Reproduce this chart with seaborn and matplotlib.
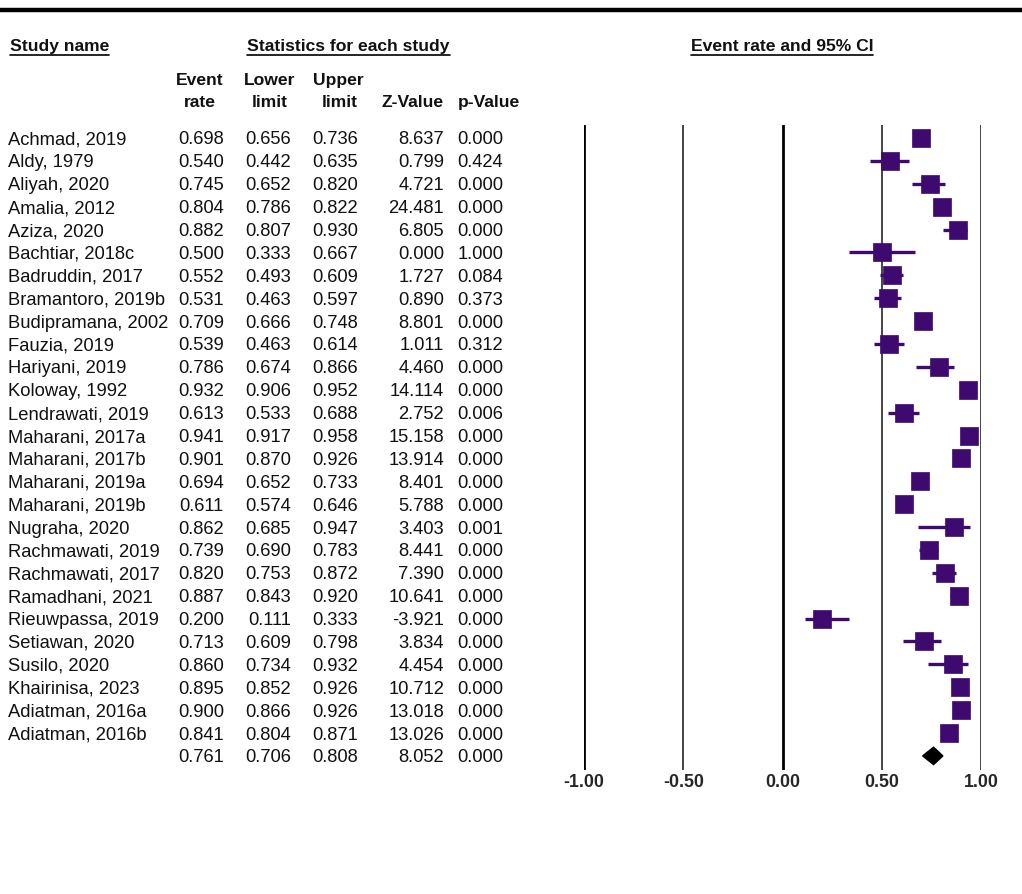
import matplotlib
matplotlib.use("Agg")
import matplotlib.pyplot as plt
import matplotlib.transforms as mtransforms
from matplotlib.lines import Line2D
import numpy as np
import pandas as pd
import seaborn as sns

studies = ["Achmad, 2019", "Aldy, 1979", "Aliyah, 2020", "Amalia, 2012", "Aziza, 2020",
           "Bachtiar, 2018c", "Badruddin, 2017", "Bramantoro, 2019b", "Budipramana, 2002",
           "Fauzia, 2019", "Hariyani, 2019", "Koloway, 1992", "Lendrawati, 2019",
           "Maharani, 2017a", "Maharani, 2017b", "Maharani, 2019a", "Maharani, 2019b",
           "Nugraha, 2020", "Rachmawati, 2019", "Rachmawati, 2017", "Ramadhani, 2021",
           "Rieuwpassa, 2019", "Setiawan, 2020", "Susilo, 2020", "Khairinisa, 2023",
           "Adiatman, 2016a", "Adiatman, 2016b"]
event_rate = [0.698, 0.540, 0.745, 0.804, 0.882, 0.500, 0.552, 0.531, 0.709, 0.539,
              0.786, 0.932, 0.613, 0.941, 0.901, 0.694, 0.611, 0.862, 0.739, 0.820,
              0.887, 0.200, 0.713, 0.860, 0.895, 0.900, 0.841]
lower_limit = [0.656, 0.442, 0.652, 0.786, 0.807, 0.333, 0.493, 0.463, 0.666, 0.463,
               0.674, 0.906, 0.533, 0.917, 0.870, 0.652, 0.574, 0.685, 0.690, 0.753,
               0.843, 0.111, 0.609, 0.734, 0.852, 0.866, 0.804]
upper_limit = [0.736, 0.635, 0.820, 0.822, 0.930, 0.667, 0.609, 0.597, 0.748, 0.614,
               0.866, 0.952, 0.688, 0.958, 0.926, 0.733, 0.646, 0.947, 0.783, 0.872,
               0.920, 0.333, 0.798, 0.932, 0.926, 0.926, 0.871]
z_value = [8.637, 0.799, 4.721, 24.481, 6.805, 0.000, 1.727, 0.890, 8.801, 1.011,
           4.460, 14.114, 2.752, 15.158, 13.914, 8.401, 5.788, 3.403, 8.441, 7.390,
           10.641, -3.921, 3.834, 4.454, 10.712, 13.018, 13.026]
p_value = [0.000, 0.424, 0.000, 0.000, 0.000, 1.000, 0.084, 0.373, 0.000, 0.312,
           0.000, 0.000, 0.006, 0.000, 0.000, 0.000, 0.000, 0.001, 0.000, 0.000,
           0.000, 0.000, 0.000, 0.000, 0.000, 0.000, 0.000]
summary_rate = 0.761
summary_lower = 0.706
summary_upper = 0.808
summary_z = 8.052
summary_p = 0.000
tick_values = [-1.0, -0.5, 0.0, 0.5, 1.0]
tick_labels = ["-1.00", "-0.50", "0.00", "0.50", "1.00"]

sns.set_theme(style="white")
plt.rcParams["font.family"] = ["Liberation Sans", "DejaVu Sans"]

W, H = 1022, 894
fig = plt.figure(figsize=(W / 100, H / 100), dpi=100)
fig.patch.set_facecolor("white")

# forest axes: x -1 -> px 584, 1 -> px 981 ; rows 0 -> y 138, spacing 22.885
x0, x1 = 584, 981
ytop, ybot = 125, 770
row0, dy = 138, 22.885
ax = fig.add_axes([x0 / W, 1 - ybot / H, (x1 - x0) / W, (ybot - ytop) / H])
ax.set_xlim(-1, 1)
ax.set_ylim((ybot - row0) / dy, (ytop - row0) / dy)
for s in ax.spines.values():
    s.set_visible(False)
ax.set_facecolor("white")

for v in tick_values:
    if v in (-1.0, 0.0):
        ax.axvline(v, color="black", lw=2.0, zorder=1)
    else:
        ax.axvline(v, color="#444444", lw=1.4, zorder=1)

df = pd.DataFrame({"study": studies, "rate": event_rate, "lo": lower_limit,
                   "hi": upper_limit, "z": z_value, "p": p_value})
df["row"] = np.arange(len(df))
purple = "#3f0a70"
ax.hlines(df["row"], df["lo"], df["hi"], color=purple, lw=2.4, zorder=2)
sns.scatterplot(data=df, x="rate", y="row", marker="s", s=12.5 ** 2, color=purple,
                edgecolor=purple, linewidth=0.5, ax=ax, legend=False, zorder=3)

srow = len(df)
hh = 0.38
ax.fill([summary_lower, summary_rate, summary_upper, summary_rate],
        [srow, srow - hh, srow, srow + hh], color="black", zorder=3, clip_on=False)

ax.set_xticks(tick_values)
ax.set_xticklabels(tick_labels, fontsize=12.8, fontweight="bold")
ax.tick_params(axis="x", length=0, pad=3)
ax.set_yticks([])
ax.set_xlabel("")
ax.set_ylabel("")

# table text
tr = mtransforms.blended_transform_factory(fig.transFigure, ax.transData)
fs = 13.2
hfs = 12.6
col_right = {"rate": 224, "lo": 291, "hi": 358, "z": 444, "p": 503}
for i, r in df.iterrows():
    ax.text(8 / W, r["row"], r["study"], transform=tr, ha="left",
            va="center_baseline", fontsize=fs, color="#111111", clip_on=False)
    for key in ["rate", "lo", "hi", "z", "p"]:
        ax.text(col_right[key] / W, r["row"], f"{r[key]:.3f}", transform=tr,
                ha="right", va="center_baseline", fontsize=fs, color="#111111",
                clip_on=False)
for key, val in zip(["rate", "lo", "hi", "z", "p"],
                    [summary_rate, summary_lower, summary_upper, summary_z, summary_p]):
    ax.text(col_right[key] / W, srow, f"{val:.3f}", transform=tr, ha="right",
            va="center_baseline", fontsize=fs, color="#111111", clip_on=False)

def ftxt(x, y, s, ha="center", weight="bold"):
    return fig.text(x / W, 1 - y / H, s, ha=ha, va="center_baseline", fontsize=hfs,
                    fontweight=weight, color="#111111")

t1 = ftxt(10, 45, "Study name", ha="left")
t2 = ftxt(247, 45, "Statistics for each study", ha="left")
t3 = ftxt(782, 45, "Event rate and 95% CI")
ftxt(200, 79, "Event")
ftxt(200, 101, "rate")
ftxt(270, 79, "Lower")
ftxt(270, 101, "limit")
ftxt(338, 79, "Upper")
ftxt(340, 101, "limit")
ftxt(413, 101, "Z-Value")
ftxt(489, 101, "p-Value")

# top rule
fig.add_artist(Line2D([0, 1], [1 - 10 / H, 1 - 10 / H], color="black", lw=3.2,
                      transform=fig.transFigure))

fig.canvas.draw()
rend = fig.canvas.get_renderer()
for t in (t1, t2, t3):
    bb = t.get_window_extent(renderer=rend)
    yline = bb.y0 - 1
    fig.add_artist(Line2D([bb.x0 / W, bb.x1 / W], [yline / H, yline / H],
                          color="black", lw=1.2, transform=fig.transFigure))

fig.savefig("out.png", dpi=100, facecolor="white")
